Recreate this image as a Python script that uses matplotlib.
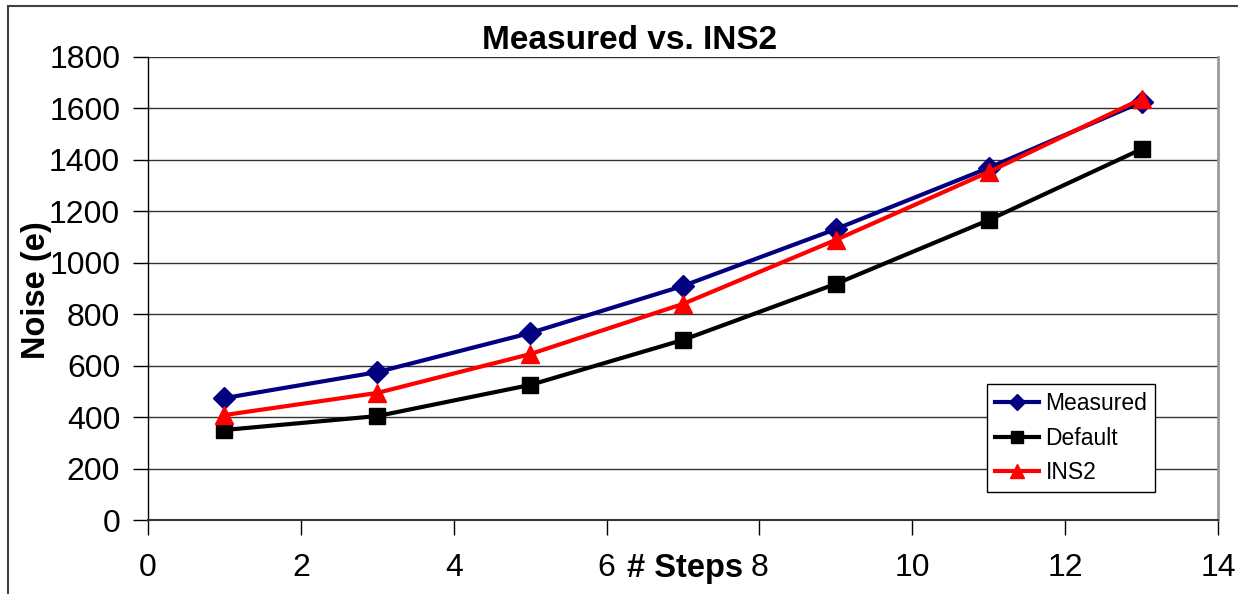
import matplotlib.pyplot as plt
from matplotlib.patches import Rectangle

# values
steps = [1, 3, 5, 7, 9, 11, 13]
measured = [474, 575, 727, 910, 1131, 1369, 1625]
default = [350, 404, 525, 700, 918, 1166, 1442]
ins2 = [408, 494, 645, 840, 1089, 1353, 1637]

x_ticks = [0, 2, 4, 6, 8, 10, 12, 14]
y_ticks = [0, 200, 400, 600, 800, 1000, 1200, 1400, 1600, 1800]

plt.rcParams['font.family'] = ['Liberation Sans', 'DejaVu Sans']

fig = plt.figure(figsize=(12.38, 5.94), dpi=100)
ax = fig.add_axes([148 / 1238, 74 / 594, 1070 / 1238, 463 / 594])

# outer chart frame (cut off at right/bottom like the screenshot)
fig.patches.append(Rectangle((8 / 1238, -0.1), 1.2, (594 - 6) / 594 + 0.1,
                             transform=fig.transFigure, fill=False,
                             edgecolor='#404040', linewidth=1.5))

ax.plot(steps, measured, color='#000080', linewidth=3, marker='D',
        markersize=11, label='Measured')
ax.plot(steps, default, color='black', linewidth=3, marker='s',
        markersize=11, label='Default')
ax.plot(steps, ins2, color='red', linewidth=3, marker='^',
        markersize=13, label='INS2')

ax.set_xlim(0, 14)
ax.set_ylim(0, 1800)
ax.set_xticks(x_ticks)
ax.set_yticks(y_ticks)
ax.yaxis.grid(True, color='#333333', linewidth=1)
ax.set_axisbelow(True)

ax.tick_params(axis='both', direction='out', length=11, width=1,
               labelsize=23, color='black')
ax.tick_params(axis='y', pad=9)
ax.tick_params(axis='x', pad=13)

ax.spines['top'].set_visible(False)
ax.spines['right'].set_color('#999999')
ax.spines['right'].set_linewidth(2)
ax.spines['left'].set_linewidth(1)
ax.spines['bottom'].set_color('#333333')
ax.spines['bottom'].set_linewidth(1.5)

ax.set_title('Measured vs. INS2', fontsize=24, fontweight='bold',
             x=0.45, y=1.0)
ax.set_xlabel('# Steps', fontsize=23.5, fontweight='bold')
ax.xaxis.set_label_coords(0.502, -0.104)
ax.xaxis.label.set_va('center')
ax.set_ylabel('Noise (e)', fontsize=23.5, fontweight='bold')
ax.yaxis.set_label_coords(-0.104, 0.497)
ax.yaxis.label.set_va('center')

leg = ax.legend(loc='lower left', bbox_to_anchor=(839 / 1070, 28 / 463),
                fontsize=16.5, frameon=True, fancybox=False, framealpha=1,
                edgecolor='black', handlelength=1.9, handletextpad=0.3,
                borderpad=0.35, labelspacing=0.5, borderaxespad=0,
                markerscale=0.75)
leg.get_frame().set_linewidth(1)

fig.savefig('out.png', dpi=100)
